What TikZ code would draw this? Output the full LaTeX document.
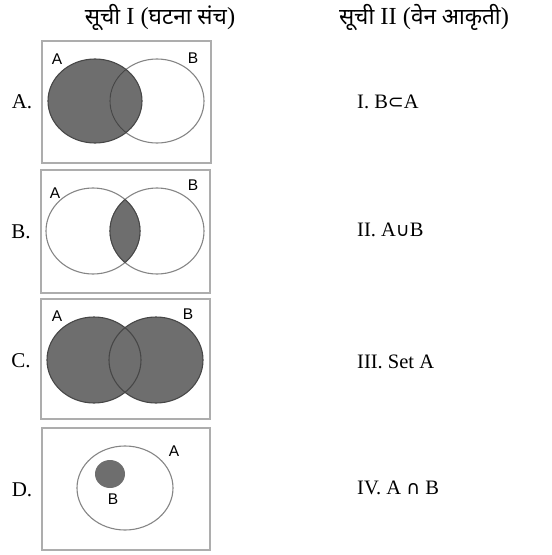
\documentclass[tikz,border=0pt]{standalone}
\usepackage{fontspec}
\setmainfont{Liberation Serif}
\newfontfamily\deva[Script=Devanagari]{Noto Sans}
\newfontfamily\arialf{Liberation Sans}
\newfontfamily\symf{DejaVu Sans}
\newcommand{\dv}[1]{{\deva\fontsize{22.5}{22.5}\selectfont #1}}
\newcommand{\sy}[1]{{\symf\fontsize{19}{19}\selectfont #1}}
\begin{document}
\begin{tikzpicture}[x=1pt,y=-1pt,
  frame/.style={draw=black!32,line width=1.6pt},
  vfill/.style={fill=black!57},
  vline/.style={draw=black!48,line width=1.1pt},
  dline/.style={draw=black!72,line width=1.1pt},
  setlbl/.style={font=\arialf\fontsize{15.5}{15.5}\selectfont,inner sep=0pt},
  rowlbl/.style={font=\fontsize{21}{21}\selectfont,inner sep=0pt},
  itemlbl/.style={font=\fontsize{20.5}{20.5}\selectfont,inner sep=0pt,anchor=west},
  head/.style={font=\fontsize{24.5}{24.5}\selectfont,inner sep=0pt}]
\useasboundingbox (0,0) rectangle (552,555);
% headers
\node[head] (h1) at (160,17) {\dv{सूची} I (\dv{घटना संच})};
\node[head] (h2) at (424,17) {\dv{सूची} II (\dv{वेन आकृती})};
% Box A
\draw[frame] (42,41) rectangle (211,163);
\fill[vfill] (95,101) ellipse [x radius=47,y radius=42];
\draw[vline] (157,101) ellipse [x radius=47,y radius=42];
\begin{scope}
\clip (95,101) ellipse [x radius=47,y radius=42];
\draw[dline] (157,101) ellipse [x radius=47,y radius=42];
\end{scope}
\draw[dline] (95,101) ellipse [x radius=47,y radius=42];
\node[setlbl] (aA) at (57,59) {A};
\node[setlbl] (aB) at (193,58) {B};
\node[rowlbl] (rA) at (22,102) {A.};
% Box B
\draw[frame] (41,170) rectangle (210,293);
\begin{scope}
\clip (93,231) ellipse [x radius=47,y radius=43];
\fill[vfill] (157,231) ellipse [x radius=47,y radius=43];
\end{scope}
\draw[vline] (93,231) ellipse [x radius=47,y radius=43];
\draw[vline] (157,231) ellipse [x radius=47,y radius=43];
\begin{scope}
\clip (93,231) ellipse [x radius=47,y radius=43];
\draw[dline] (157,231) ellipse [x radius=47,y radius=43];
\end{scope}
\begin{scope}
\clip (157,231) ellipse [x radius=47,y radius=43];
\draw[dline] (93,231) ellipse [x radius=47,y radius=43];
\end{scope}
\node[setlbl] (bA) at (55,193) {A};
\node[setlbl] (bB) at (193,185) {B};
\node[rowlbl] (rB) at (21,232) {B.};
% Box C
\draw[frame] (41,299) rectangle (210,419);
\fill[vfill] (94,360) ellipse [x radius=47,y radius=43];
\fill[vfill] (156,360) ellipse [x radius=47,y radius=43];
\draw[dline] (94,360) ellipse [x radius=47,y radius=43];
\draw[dline] (156,360) ellipse [x radius=47,y radius=43];
\node[setlbl] (cA) at (57,316) {A};
\node[setlbl] (cB) at (188,314) {B};
\node[rowlbl] (rC) at (21,361) {C.};
% Box D
\draw[frame] (42,428) rectangle (210,550);
\draw[vline] (125,488) ellipse [x radius=48,y radius=42];
\fill[vfill] (110,474) ellipse [x radius=15,y radius=14];
\node[setlbl] (dB) at (113,499) {B};
\node[setlbl] (dA) at (174,451) {A};
\node[rowlbl] (rD) at (22,490) {D.};
% right column
\node[itemlbl] (i1) at (357,102) {I. B\sy{⊂}A};
\node[itemlbl] (i2) at (357,230) {II. A\sy{∪}B};
\node[itemlbl] (i3) at (357,362) {III. Set A};
\node[itemlbl] (i4) at (357,488) {IV. A \sy{∩} B};
\end{tikzpicture}
\end{document}
